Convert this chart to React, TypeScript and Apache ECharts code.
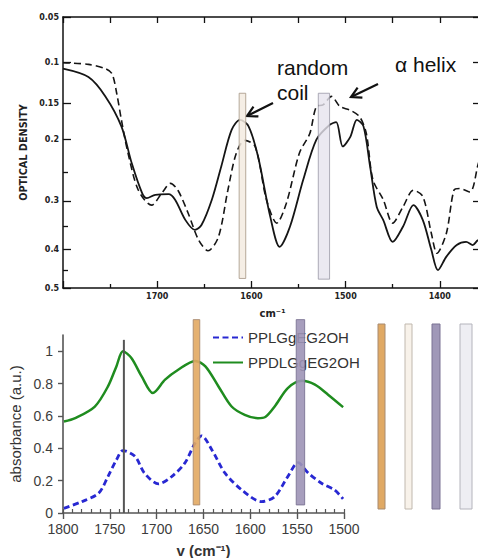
import React, { useEffect, useRef } from "react";
import * as echarts from "echarts";

// ---- Upper panel: optical density spectra ----
const solidWavenumber = [1800, 1773, 1755, 1738, 1727, 1716, 1711, 1702, 1688, 1681, 1670, 1660, 1653, 1642, 1632, 1621, 1612, 1603, 1593, 1580, 1570, 1559, 1545, 1531, 1517, 1510, 1503, 1495, 1488, 1481, 1474, 1467, 1460, 1450, 1439, 1428, 1418, 1409, 1402, 1393, 1382, 1372, 1365, 1359, 1350];
const solidDensity = [0.107, 0.117, 0.141, 0.181, 0.236, 0.286, 0.295, 0.289, 0.288, 0.298, 0.337, 0.357, 0.347, 0.298, 0.241, 0.186, 0.172, 0.181, 0.225, 0.33, 0.394, 0.35, 0.263, 0.2, 0.179, 0.175, 0.21, 0.196, 0.172, 0.181, 0.241, 0.311, 0.337, 0.383, 0.35, 0.308, 0.337, 0.401, 0.451, 0.417, 0.39, 0.383, 0.39, 0.379, 0.385];

const dashedWavenumber = [1800, 1773, 1755, 1748, 1743, 1738, 1731, 1720, 1706, 1695, 1686, 1678, 1667, 1656, 1646, 1635, 1625, 1616, 1607, 1596, 1584, 1573, 1563, 1549, 1538, 1531, 1524, 1515, 1506, 1495, 1485, 1478, 1471, 1460, 1450, 1439, 1428, 1418, 1409, 1403, 1393, 1385, 1379, 1368, 1359, 1350];
const dashedDensity = [0.1, 0.102, 0.107, 0.113, 0.137, 0.172, 0.22, 0.281, 0.308, 0.286, 0.269, 0.281, 0.324, 0.379, 0.403, 0.372, 0.281, 0.22, 0.201, 0.21, 0.298, 0.343, 0.305, 0.22, 0.191, 0.154, 0.152, 0.141, 0.154, 0.159, 0.168, 0.191, 0.263, 0.298, 0.343, 0.311, 0.281, 0.292, 0.364, 0.409, 0.364, 0.281, 0.278, 0.284, 0.236, 0.2];

const densityTicks = [0.05, 0.1, 0.15, 0.2, 0.3, 0.4, 0.5];
const densityMinorTicks = [0.25, 0.35, 0.45];

// marked bands in the upper panel: wavenumber range and density span
const upperBandFrom = [1613, 1529];
const upperBandTo = [1606, 1517];
const upperBandTopOd = [0.137, 0.137];
const upperBandBottomOd = [0.473, 0.475];

// ---- Lower panel: absorbance spectra ----
const pplgWavenumber = [1799, 1780, 1762, 1752, 1743, 1736, 1723, 1713, 1698, 1684, 1670, 1659, 1652, 1641, 1627, 1609, 1588, 1574, 1560, 1549, 1538, 1524, 1510, 1501];
const pplgAbsorbance = [0.029, 0.07, 0.122, 0.225, 0.328, 0.386, 0.349, 0.246, 0.18, 0.225, 0.308, 0.432, 0.477, 0.39, 0.246, 0.142, 0.07, 0.101, 0.225, 0.311, 0.246, 0.184, 0.142, 0.087];

const ppdlgWavenumber = [1799, 1787, 1766, 1752, 1743, 1736, 1727, 1716, 1704, 1691, 1677, 1659, 1648, 1634, 1620, 1606, 1592, 1584, 1574, 1560, 1545, 1531, 1517, 1501];
const ppdlgAbsorbance = [0.565, 0.586, 0.658, 0.782, 0.906, 1.0, 0.958, 0.844, 0.741, 0.824, 0.885, 0.94, 0.906, 0.782, 0.658, 0.607, 0.586, 0.593, 0.658, 0.772, 0.817, 0.793, 0.731, 0.654];

const absorbanceTicks = [0, 0.2, 0.4, 0.6, 0.8, 1];

const lowerBandFrom = [1661, 1551];
const lowerBandTo = [1654, 1542];
const lowerBandBottom = [0.05, 0.05];
const lowerBandTop = [1.195, 1.195];

const esterWavenumber = 1735;
const esterLineTop = 1.07;

const seriesNames = ["PPLGgEG2OH", "PPDLGgEG2OH"];

const transmit = (od: number) => Math.pow(10, -od);

const upperBandStyles = [
  { fill: "#f3ebe0", stroke: "#a99a8a", opacity: 0.85 },
  { fill: "#e6e4ee", stroke: "#9a98a6", opacity: 0.8 },
];
const lowerBandStyles = [
  { fill: "#e2a862", stroke: "#a88b70", opacity: 0.9 },
  { fill: "#9d94b6", stroke: "#7b7393", opacity: 0.9 },
];

const bandRenderer = (styles: any[]) => (params: any, api: any) => {
  const p0 = api.coord([api.value(0), api.value(2)]);
  const p1 = api.coord([api.value(1), api.value(3)]);
  const st = styles[params.dataIndex];
  return {
    type: "rect",
    shape: {
      x: Math.min(p0[0], p1[0]),
      y: Math.min(p0[1], p1[1]),
      width: Math.abs(p1[0] - p0[0]),
      height: Math.abs(p1[1] - p0[1]),
    },
    style: { fill: st.fill, stroke: st.stroke, lineWidth: 1, opacity: st.opacity },
  };
};

function arrow(x0: number, y0: number, x1: number, y1: number) {
  const len = Math.hypot(x1 - x0, y1 - y0);
  const dx = (x1 - x0) / len;
  const dy = (y1 - y0) / len;
  const back = 10;
  const half = 5.5;
  const bx = x1 - dx * back;
  const by = y1 - dy * back;
  return {
    type: "group",
    children: [
      { type: "line", shape: { x1: x0, y1: y0, x2: x1, y2: y1 }, style: { stroke: "#111", lineWidth: 2.2 } },
      {
        type: "polyline",
        shape: {
          points: [
            [bx - dy * half, by + dx * half],
            [x1, y1],
            [bx + dy * half, by - dx * half],
          ],
        },
        style: { stroke: "#111", lineWidth: 2.2, fill: "none" },
      },
    ],
  };
}

const swatches = [
  { x: 378, w: 7, fill: "#e0a964", stroke: "#a88b70" },
  { x: 405, w: 7, fill: "#f8f2ea", stroke: "#c0b8ae" },
  { x: 432, w: 8, fill: "#a098b8", stroke: "#7b7393" },
  { x: 460, w: 12, fill: "#eeeef3", stroke: "#b4b4bc" },
];

const topFont = "DejaVu Sans";
const lowFont = "Liberation Sans";

export default function App() {
  const ref = useRef<HTMLDivElement>(null);

  useEffect(() => {
    document.body.style.margin = "0";
    if (!ref.current) return;
    const chart = echarts.init(ref.current, undefined, { renderer: "svg" });

    const majorT = densityTicks.map(transmit);
    const minorT = densityMinorTicks.map(transmit);
    const blackLine = { color: "#111", width: 1.5 };
    const tickLine = { color: "#111", width: 1.3 };
    const greyLine = { color: "#555", width: 1.6 };

    const option: any = {
      animation: false,
      backgroundColor: "#ffffff",
      grid: [
        { left: 63, top: 17, width: 471, height: 271, outerBoundsMode: "none" },
        { left: 63, top: 335, width: 281, height: 178, outerBoundsMode: "none" },
      ],
      legend: {
        data: seriesNames,
        orient: "vertical",
        left: 207,
        top: 325,
        itemWidth: 30,
        itemHeight: 14,
        itemGap: 10,
        itemStyle: { opacity: 0 },
        textStyle: { fontSize: 15, color: "#333", fontFamily: lowFont },
      },
      xAxis: [
        {
          gridIndex: 0,
          type: "value",
          min: 1300,
          max: 1800,
          inverse: true,
          interval: 100,
          position: "bottom",
          axisLine: { onZero: false, lineStyle: blackLine },
          axisTick: { inside: true, length: 7, lineStyle: tickLine },
          minorTick: { show: true, splitNumber: 2, length: 4, lineStyle: tickLine },
          splitLine: { show: false },
          axisLabel: {
            formatter: (v: number) => (v < 1800 && v > 1300 ? String(v) : ""),
            fontFamily: topFont,
            fontWeight: "bold",
            fontSize: 8,
            color: "#222",
            margin: 4,
          },
          name: "cm⁻¹",
          nameLocation: "middle",
          nameGap: 20,
          nameTextStyle: {
            fontFamily: topFont,
            fontWeight: "bold",
            fontSize: 10,
            color: "#222",
            padding: [0, 52, 0, 0],
          },
        },
        {
          gridIndex: 0,
          type: "value",
          min: 1300,
          max: 1800,
          inverse: true,
          interval: 50,
          position: "top",
          axisLine: { onZero: false, lineStyle: blackLine },
          axisTick: { inside: true, length: 6, lineStyle: tickLine },
          axisLabel: { show: false },
          splitLine: { show: false },
        },
        {
          gridIndex: 1,
          type: "value",
          min: 1500,
          max: 1800,
          inverse: true,
          interval: 50,
          position: "bottom",
          axisLine: { onZero: false, lineStyle: greyLine },
          axisTick: { length: 6, lineStyle: { color: "#555", width: 1.4 } },
          axisLabel: { fontSize: 14, color: "#3c3c3c", margin: 9, fontFamily: lowFont, formatter: (v: number) => String(v) },
          splitLine: { show: false },
          name: "v (cm⁻¹)",
          nameLocation: "middle",
          nameGap: 30,
          nameTextStyle: { fontSize: 15, fontWeight: "bold", color: "#333", fontFamily: lowFont },
        },
        {
          gridIndex: 1,
          type: "value",
          min: 1500,
          max: 1800,
          inverse: true,
          interval: 10,
          position: "bottom",
          axisLine: { show: false, onZero: false },
          axisTick: { inside: true, length: 4, lineStyle: { color: "#555", width: 1.2 } },
          axisLabel: { show: false },
          splitLine: { show: false },
        },
      ],
      yAxis: [
        {
          gridIndex: 0,
          type: "value",
          min: transmit(0.5),
          max: transmit(0.05),
          position: "left",
          axisLine: { show: true, onZero: false, lineStyle: blackLine },
          axisTick: { show: true, inside: true, length: 8, customValues: majorT, lineStyle: tickLine },
          axisLabel: {
            customValues: majorT,
            formatter: (v: number) => String(Math.round(-Math.log10(v) * 100) / 100),
            fontFamily: topFont,
            fontWeight: "bold",
            fontSize: 8,
            color: "#222",
            margin: 4,
          },
          splitLine: { show: false },
          name: "OPTICAL DENSITY",
          nameLocation: "middle",
          nameRotate: 90,
          nameGap: 32,
          nameTextStyle: { fontFamily: topFont, fontWeight: "bold", fontSize: 9.7, color: "#222" },
        },
        {
          gridIndex: 0,
          type: "value",
          min: transmit(0.5),
          max: transmit(0.05),
          position: "left",
          axisLine: { show: false, onZero: false },
          axisTick: { show: true, inside: true, length: 5, customValues: minorT, lineStyle: tickLine },
          axisLabel: { show: false },
          splitLine: { show: false },
        },
        {
          gridIndex: 0,
          type: "value",
          min: transmit(0.5),
          max: transmit(0.05),
          position: "right",
          offset: -53,
          axisLine: { show: false, onZero: false },
          axisTick: { show: true, inside: true, length: 8, customValues: majorT, lineStyle: tickLine },
          axisLabel: { show: false },
          splitLine: { show: false },
        },
        {
          gridIndex: 1,
          type: "value",
          min: 0,
          max: 1.1,
          position: "left",
          axisLine: { show: true, onZero: false, lineStyle: greyLine },
          axisTick: { show: true, length: 5, customValues: absorbanceTicks, lineStyle: { color: "#555", width: 1.4 } },
          axisLabel: {
            customValues: absorbanceTicks,
            formatter: (v: number) => String(Math.round(v * 10) / 10),
            fontSize: 14,
            color: "#3c3c3c",
            margin: 10,
            fontFamily: lowFont,
          },
          splitLine: { show: false },
          name: "absorbance (a.u.)",
          nameLocation: "middle",
          nameRotate: 90,
          nameGap: 36,
          nameTextStyle: { fontSize: 15, color: "#333", fontFamily: lowFont },
        },
      ],
      series: [
        {
          type: "line",
          xAxisIndex: 0,
          yAxisIndex: 0,
          data: solidWavenumber.map((w, i) => [w, transmit(solidDensity[i])]),
          symbol: "none",
          smooth: 0.3,
          lineStyle: { color: "#151515", width: 1.8 },
          z: 2,
        },
        {
          type: "line",
          xAxisIndex: 0,
          yAxisIndex: 0,
          data: dashedWavenumber.map((w, i) => [w, transmit(dashedDensity[i])]),
          symbol: "none",
          smooth: 0.3,
          lineStyle: { color: "#151515", width: 1.6, type: [7, 4] },
          z: 2,
        },
        {
          type: "custom",
          xAxisIndex: 0,
          yAxisIndex: 0,
          clip: false,
          encode: { x: [0, 1], y: [2, 3] },
          data: upperBandFrom.map((f, i) => [f, upperBandTo[i], transmit(upperBandTopOd[i]), transmit(upperBandBottomOd[i])]),
          renderItem: bandRenderer(upperBandStyles),
          z: 3,
          silent: true,
        },
        {
          type: "line",
          name: seriesNames[0],
          xAxisIndex: 2,
          yAxisIndex: 3,
          data: pplgWavenumber.map((w, i) => [w, pplgAbsorbance[i]]),
          symbol: "none",
          smooth: 0.3,
          itemStyle: { color: "#2828d2" },
          lineStyle: { color: "#2828d2", width: 2.8, type: [6, 3.5] },
          z: 2,
        },
        {
          type: "line",
          name: seriesNames[1],
          xAxisIndex: 2,
          yAxisIndex: 3,
          data: ppdlgWavenumber.map((w, i) => [w, ppdlgAbsorbance[i]]),
          symbol: "none",
          smooth: 0.3,
          itemStyle: { color: "#1f8c1f" },
          lineStyle: { color: "#1f8c1f", width: 2.5 },
          z: 2,
        },
        {
          type: "custom",
          xAxisIndex: 2,
          yAxisIndex: 3,
          clip: false,
          data: [[esterWavenumber, 0, esterLineTop]],
          renderItem: (params: any, api: any) => {
            const a = api.coord([api.value(0), api.value(1)]);
            const b = api.coord([api.value(0), api.value(2)]);
            return {
              type: "line",
              shape: { x1: a[0], y1: a[1], x2: b[0], y2: b[1] },
              style: { stroke: "#555", lineWidth: 2 },
            };
          },
          z: 3,
          silent: true,
        },
        {
          type: "custom",
          xAxisIndex: 2,
          yAxisIndex: 3,
          clip: false,
          encode: { x: [0, 1], y: [2, 3] },
          data: lowerBandFrom.map((f, i) => [f, lowerBandTo[i], lowerBandBottom[i], lowerBandTop[i]]),
          renderItem: bandRenderer(lowerBandStyles),
          z: 6,
          silent: true,
        },
      ],
      graphic: [
        {
          type: "text",
          left: 277,
          top: 55,
          style: { text: "random\ncoil", font: "21px 'Liberation Sans'", fill: "#111", lineHeight: 25 },
        },
        {
          type: "text",
          left: 395,
          top: 54,
          style: { text: "α helix", font: "21px 'Liberation Sans'", fill: "#111" },
        },
        arrow(273, 103, 247, 116),
        arrow(378, 84, 351, 97),
        ...swatches.map((s) => ({
          type: "rect",
          shape: { x: s.x, y: 324, width: s.w, height: 185 },
          style: { fill: s.fill, stroke: s.stroke, lineWidth: 1 },
        })),
      ],
    };

    chart.setOption(option);
    return () => chart.dispose();
  }, []);

  return <div ref={ref} style={{ width: 478, height: 558 }} />;
}
